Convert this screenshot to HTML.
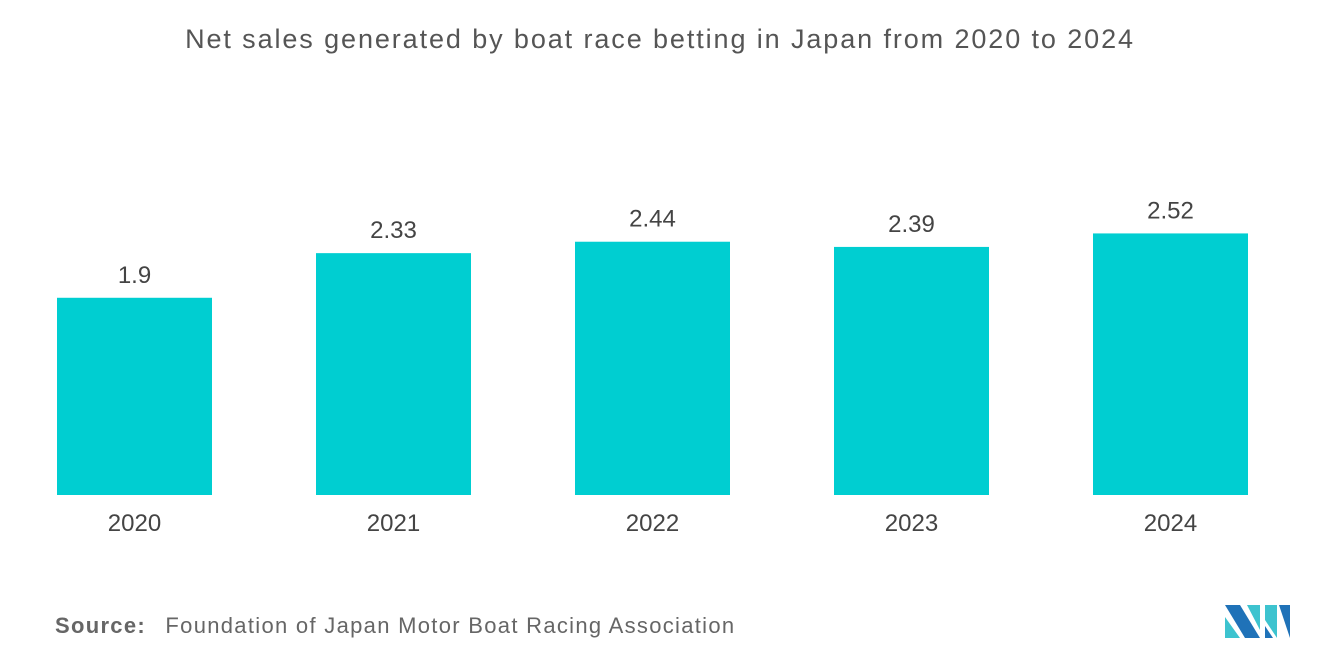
<!DOCTYPE html>
<html><head><meta charset="utf-8"><style>
body{margin:0;width:1320px;height:665px;background:#fff;font-family:"Liberation Sans",sans-serif;overflow:hidden;position:relative}
#title{position:absolute;top:24px;left:0;width:1320px;text-align:center;font-size:27px;letter-spacing:1.9px;color:#555}
#src{position:absolute;top:613px;left:55px;font-size:22px;color:#666;letter-spacing:1.3px;white-space:nowrap}
#src b{font-weight:bold;color:#666;margin-right:12px}
svg{position:absolute;left:0;top:0}
</style></head><body>
<div id="title">Net sales generated by boat race betting in Japan from 2020 to 2024</div>
<svg id="chart" width="1320" height="665"></svg>
<div id="src"><b>Source:</b> Foundation of Japan Motor Boat Racing Association</div>
<svg width="1320" height="665">
<polygon points="1225,605 1240,605 1260,638 1245,638" fill="#1f72b8"/>
<polygon points="1225,617 1240,638 1225,638" fill="#3dc3cf"/>
<polygon points="1247,605 1260,605 1260,630" fill="#3dc3cf"/>
<polygon points="1265,605 1277,605 1277,638 1265,620" fill="#3dc3cf"/>
<polygon points="1265,626 1273,638 1265,638" fill="#1f72b8"/>
<polygon points="1279,605 1290,605 1290,638" fill="#1f72b8"/>
</svg>
<script>
const categories=["2020","2021","2022","2023","2024"];
const values=[1.9,2.33,2.44,2.39,2.52];
const labels=["1.9","2.33","2.44","2.39","2.52"];
const svg=document.getElementById('chart');
const NS='http://www.w3.org/2000/svg';
const base=495,scale=103.8,x0=57,step=259,bw=155;
const y=v=>base-v*scale;
const x=i=>x0+i*step;
categories.forEach((c,i)=>{
  const r=document.createElementNS(NS,'rect');
  r.setAttribute('x',x(i));r.setAttribute('y',y(values[i]));
  r.setAttribute('width',bw);r.setAttribute('height',base-y(values[i]));
  r.setAttribute('fill','#00ced1');
  
  
  svg.appendChild(r);
  const t=document.createElementNS(NS,'text');
  t.setAttribute('x',x(i)+bw/2);t.setAttribute('y',y(values[i])-15);
  t.setAttribute('text-anchor','middle');t.setAttribute('font-size','24');t.setAttribute('fill','#444');
  t.textContent=labels[i];
  
  
  svg.appendChild(t);
  const l=document.createElementNS(NS,'text');
  l.setAttribute('x',x(i)+bw/2);l.setAttribute('y',531);
  l.setAttribute('text-anchor','middle');l.setAttribute('font-size','24');l.setAttribute('fill','#444');
  l.textContent=c;
  
  
  svg.appendChild(l);
});
</script>
</body></html>
